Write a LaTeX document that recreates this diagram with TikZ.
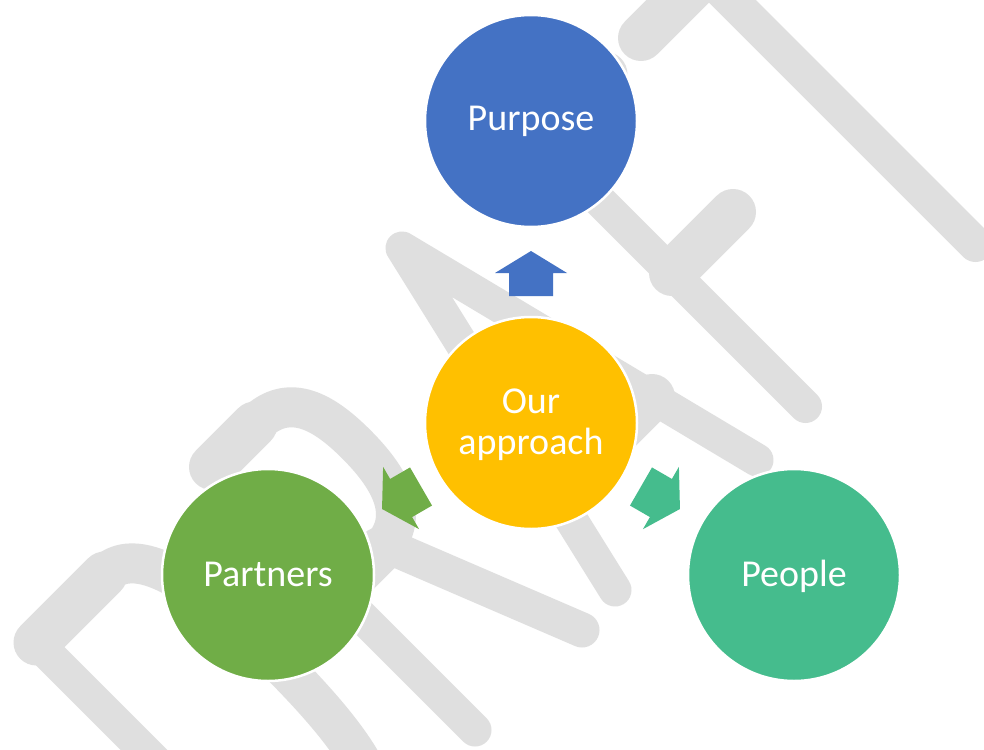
\documentclass[tikz,border=0pt]{standalone}
\usepackage{fontspec}
\setmainfont{Carlito}
\definecolor{wm}{RGB}{223,223,223}
\definecolor{cpurpose}{RGB}{68,114,196}
\definecolor{cours}{RGB}{255,192,0}
\definecolor{cpartners}{RGB}{112,173,71}
\definecolor{cpeople}{RGB}{69,188,141}
\begin{document}
\begin{tikzpicture}[x=1pt,y=-1pt,
  wmstem/.style={draw=wm, line width=33pt, line cap=round, line join=round},
  wmbar/.style={draw=wm, line width=46pt, line cap=round, line join=round},
  wmbowl/.style={draw=wm, line width=40pt, line cap=round, line join=round},
  bubble/.style={circle, draw=white, line width=2.5pt, minimum size=212pt, inner sep=0pt},
  lbl/.style={text=white, font=\fontsize{38}{41}\selectfont, inner sep=0pt, anchor=base},
  blockarrow/.style={draw=none}]
\useasboundingbox (0,0) rectangle (984,749);
\fill[white] (0,0) rectangle (984,749);
% ---- DRAFT watermark ----
\begin{scope}
\clip (0,0) rectangle (984,749);
% D
\draw[wmstem] (36.5,642.5) -- (298,904);
\draw[wmbar] (36.5,642.5) -- (104.5,574.5);
\draw[wmbowl] (104.5,574.5) .. controls (139.5,539.5) and (208,592) .. (278,662)
   .. controls (348,732) and (401,801) .. (366,836);
\draw[wmbar] (366,836) -- (298,904);
% R
\draw[wmstem] (212,467) -- (475,730);
\draw[wmbar] (212,467) -- (254.5,424.5);
\draw[wmbowl] (254.5,424.5) .. controls (289.5,389.5) and (326,414) .. (356,444)
   .. controls (386,474) and (415,515) .. (380,550);
\draw[wmbar] (380,550) -- (337.5,592.5);
\draw[wmstem, line width=35pt] (385,545) -- (582,630);
% A
\draw[wmstem] (615,590) -- (402,248) -- (757,460);
\draw[wmbar] (555,494) -- (652,397);
% F
\draw[wmstem] (539,140) -- (805.5,406.5);
\draw[wmbar] (539,140) -- (604.5,74.5);
\draw[wmbar] (672,273) -- (733,212);
% T
\draw[wmstem, line width=35pt] (705,-26) -- (975.5,244.5);
\draw[wmbar] (641,38) -- (769,-90);
\end{scope}
% ---- circles ----
\node[bubble, fill=cpurpose] (purpose) at (531,121) {};
\node[bubble, fill=cours] (ours) at (531,423) {};
\node[bubble, fill=cpartners] (partners) at (268,575) {};
\node[bubble, fill=cpeople] (people) at (794,575) {};
% ---- block arrows ----
\begin{scope}[shift={(ours.center)}, rotate=90]
\fill[cpurpose] (127,-22) -- (150,-22) -- (150,-36) -- (172,0) -- (150,36) -- (150,22) -- (127,22) -- cycle;
\end{scope}
\begin{scope}[shift={(ours.center)}, rotate=210]
\fill[cpartners] (127,-22) -- (150,-22) -- (150,-36) -- (172,0) -- (150,36) -- (150,22) -- (127,22) -- cycle;
\end{scope}
\begin{scope}[shift={(ours.center)}, rotate=330]
\fill[cpeople] (127,-22) -- (150,-22) -- (150,-36) -- (172,0) -- (150,36) -- (150,22) -- (127,22) -- cycle;
\end{scope}
% ---- labels ----
\node[lbl] (purposetxt) at (531,130) {Purpose};
\node[lbl] (ourtxt) at (531,413) {Our};
\node[lbl] (approachtxt) at (531,454) {approach};
\node[lbl] (partnerstxt) at (268,586) {Partners};
\node[lbl] (peopletxt) at (794,586) {People};
\end{tikzpicture}
\end{document}
